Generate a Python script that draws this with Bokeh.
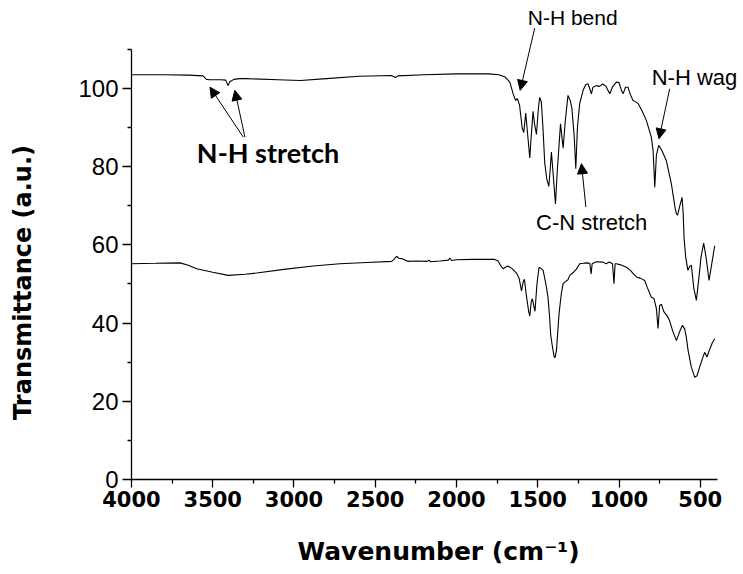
import math
from bokeh.plotting import figure
from bokeh.models import Range1d, FixedTicker, Label, Arrow, NormalHead, ColumnDataSource
from bokeh.embed import file_html
from bokeh.resources import INLINE

# ---- data ----
top_wn = [4000, 3800, 3650, 3560, 3538, 3520, 3450, 3420, 3406, 3395, 3370, 3333, 3300, 3100,
          2960, 2800, 2600, 2400, 2375, 2360, 2200, 2000, 1800, 1740, 1700, 1675, 1672, 1650,
          1636, 1626, 1612, 1596, 1586, 1574, 1566, 1549, 1540, 1529, 1520, 1508, 1496, 1488,
          1478, 1468, 1457, 1445, 1432, 1424, 1416, 1405, 1391, 1380, 1360, 1344, 1330, 1314,
          1300, 1290, 1276, 1266, 1256, 1242, 1221, 1205, 1191, 1180, 1170, 1160, 1140, 1120,
          1100, 1080, 1057, 1040, 1016, 1000, 985, 975, 960, 945, 930, 914, 900, 883, 860, 832,
          801, 790, 780, 770, 756, 740, 709, 678, 655, 647, 640, 626, 612, 605, 600, 590, 576,
          565, 555, 540, 524, 510, 495, 479, 465, 446, 430, 411]
top_t = [103.6, 103.6, 103.5, 103.3, 102.4, 102.3, 102.3, 102.2, 100.8, 101.8, 102.4, 102.6,
         102.6, 102.3, 102.1, 102.6, 103.2, 103.4, 102.9, 103.3, 103.6, 103.8, 103.8, 103.6,
         103.0, 101.8, 101.7, 98.5, 97.0, 97.5, 95.8, 90.0, 88.8, 93.8, 90.0, 82.3, 88.0, 94.2,
         91.0, 88.3, 95.0, 97.8, 96.6, 90.0, 81.0, 77.0, 75.0, 79.0, 83.8, 78.0, 70.5, 79.0,
         91.0, 84.8, 92.0, 98.3, 97.0, 95.0, 88.0, 79.5, 90.0, 96.2, 99.6, 101.0, 101.3, 100.0,
         98.7, 100.4, 100.8, 100.6, 101.2, 100.6, 98.7, 100.5, 101.7, 101.6, 99.6, 98.7, 100.4,
         100.4, 98.5, 97.0, 96.7, 96.2, 94.5, 91.9, 87.6, 84.0, 74.8, 83.0, 85.5, 84.5, 81.6,
         75.7, 69.5, 68.0, 67.6, 70.0, 72.2, 68.0, 62.0, 57.0, 53.5, 54.5, 54.8, 49.0, 45.8,
         51.0, 57.0, 60.5, 57.0, 50.9, 55.0, 59.8]

bot_wn = [4000, 3850, 3702, 3650, 3599, 3500, 3405, 3300, 3230, 3050, 2882, 2718, 2550, 2400,
          2385, 2369, 2355, 2338, 2300, 2250, 2180, 2170, 2160, 2100, 2050, 2040, 2030, 2000,
          1900, 1800, 1765, 1744, 1725, 1713, 1700, 1683, 1660, 1631, 1615, 1600, 1590, 1582,
          1570, 1556, 1549, 1540, 1533, 1525, 1517, 1505, 1492, 1480, 1467, 1450, 1437, 1428,
          1420, 1410, 1400, 1394, 1385, 1369, 1355, 1344, 1330, 1314, 1303, 1285, 1262, 1242,
          1220, 1200, 1180, 1172, 1165, 1140, 1098, 1080, 1060, 1040, 1031, 1024, 1016, 990,
          955, 930, 910, 893, 870, 842, 825, 801, 785, 770, 760, 750, 739, 725, 699, 688, 670,
          647, 625, 610, 596, 586, 575, 555, 534, 520, 504, 490, 473, 459, 440, 425, 411]
bot_t = [55.2, 55.3, 55.4, 54.8, 53.9, 53.0, 52.2, 52.5, 52.8, 53.8, 54.6, 55.2, 55.5, 55.8,
         56.3, 57.1, 56.6, 56.5, 55.8, 55.9, 55.8, 56.1, 55.7, 55.9, 56.1, 56.6, 56.0, 56.2,
         56.3, 56.3, 56.3, 55.9, 54.5, 53.9, 54.3, 54.6, 54.0, 52.8, 51.5, 48.2, 50.5, 51.2,
         47.0, 43.0, 41.8, 45.5, 46.2, 44.5, 43.0, 50.0, 54.3, 54.0, 53.5, 50.0, 46.6, 42.0,
         36.8, 34.0, 31.5, 31.1, 33.0, 42.4, 47.5, 50.1, 50.6, 51.1, 52.2, 52.8, 53.8, 55.2,
         55.3, 55.4, 55.3, 52.6, 55.2, 55.7, 55.6, 55.2, 55.6, 55.2, 50.1, 55.2, 55.2, 54.9,
         54.3, 53.5, 52.5, 51.8, 51.5, 50.9, 49.0, 46.6, 46.3, 43.7, 38.6, 44.5, 44.8, 43.0,
         41.5, 40.5, 38.0, 35.5, 38.0, 39.4, 38.5, 36.4, 33.0, 28.7, 26.1, 26.5, 28.7, 30.5,
         32.5, 31.3, 33.5, 35.0, 36.0]

x_major = [4000, 3500, 3000, 2500, 2000, 1500, 1000, 500]
x_minor = [3750, 3250, 2750, 2250, 1750, 1250, 750]
y_major = [0, 20, 40, 60, 80, 100]
y_minor = [10, 30, 50, 70, 90, 110]
x_axis_bounds = (393, 4000)
y_axis_bounds = (0, 110)

# annotations: (text, x, y) and arrows (x_start, y_start, x_end, y_end) in data units
ann_nh_stretch = ("N-H stretch", 3160, 83.7)
arrows_nh_stretch = [(3312, 87.6, 3517, 100.4), (3302, 87.6, 3364, 99.6)]
ann_nh_bend = ("N-H bend", 1285, 118.3)
arrow_nh_bend = (1519, 115.5, 1608, 99.6)
ann_nh_wag = ("N-H wag", 799, 102.9)
arrow_nh_wag = (688, 100.0, 754, 87.2)
ann_cn = ("C-N stretch", 1168, 65.8)
arrow_cn = (1204, 69.7, 1231, 80.8)
x_title = ("Wavenumber (cm\u207b\u00b9)", 2110, -18.6)
y_title = ("Transmittance (a.u.)", 4670, 50.4)

# ---- figure: frame covers the whole canvas, axes fixed at data positions ----
p = figure(width=743, height=574, output_backend="svg", toolbar_location=None, title=None,
           x_range=Range1d(4806, 234), y_range=Range1d(-24.4, 122.6))
p.min_border_left = 0
p.min_border_right = 0
p.min_border_top = 0
p.min_border_bottom = 0
p.outline_line_color = None
p.xgrid.visible = False
p.ygrid.visible = False
p.background_fill_color = "white"
p.border_fill_color = "white"

src_top = ColumnDataSource(dict(x=top_wn, y=top_t))
src_bot = ColumnDataSource(dict(x=bot_wn, y=bot_t))
p.line("x", "y", source=src_top, line_color="black", line_width=1.1)
p.line("x", "y", source=src_bot, line_color="black", line_width=1.1)

xa = p.xaxis[0]
xa.fixed_location = 0
xa.bounds = x_axis_bounds
xa.ticker = FixedTicker(ticks=x_major, minor_ticks=x_minor)
xa.major_label_text_font = "DejaVu Sans"
xa.major_label_text_font_style = "bold"
xa.major_label_text_font_size = "21px"
xa.major_label_text_color = "black"
xa.major_label_standoff = 4
xa.major_tick_out = 8
xa.major_tick_in = 0
xa.minor_tick_out = 4
xa.minor_tick_in = 0
xa.axis_line_color = "black"
xa.major_tick_line_color = "black"
xa.minor_tick_line_color = "black"
xa.axis_line_width = 1.3
xa.major_tick_line_width = 1.3
xa.minor_tick_line_width = 1.3

ya = p.yaxis[0]
ya.fixed_location = 4000
ya.bounds = y_axis_bounds
ya.ticker = FixedTicker(ticks=y_major, minor_ticks=y_minor)
ya.major_label_text_font = "Liberation Sans"
ya.major_label_text_font_size = "24px"
ya.major_label_text_color = "black"
ya.major_label_standoff = 4
ya.major_tick_out = 9
ya.major_tick_in = 0
ya.minor_tick_out = 4
ya.minor_tick_in = 0
ya.axis_line_color = "black"
ya.major_tick_line_color = "black"
ya.minor_tick_line_color = "black"
ya.axis_line_width = 1.3
ya.major_tick_line_width = 1.3
ya.minor_tick_line_width = 1.3

p.add_layout(Label(x=x_title[1], y=x_title[2], text=x_title[0], text_align="center",
                   text_baseline="middle", text_font="DejaVu Sans", text_font_style="bold",
                   text_font_size="25px", text_color="black"))
p.add_layout(Label(x=y_title[1], y=y_title[2], text=y_title[0], angle=math.pi / 2,
                   text_align="center", text_baseline="middle", text_font="DejaVu Sans",
                   text_font_style="bold", text_font_size="24px", text_color="black"))

def add_arrow(a):
    p.add_layout(Arrow(end=NormalHead(size=10, fill_color="black", line_color="black"),
                       x_start=a[0], y_start=a[1], x_end=a[2], y_end=a[3],
                       line_color="black", line_width=1))

for a in arrows_nh_stretch:
    add_arrow(a)
add_arrow(arrow_nh_bend)
add_arrow(arrow_nh_wag)
add_arrow(arrow_cn)

p.add_layout(Label(x=ann_nh_stretch[1], y=ann_nh_stretch[2], text=ann_nh_stretch[0],
                   text_align="center", text_baseline="middle", text_font="Lato",
                   text_font_style="bold", text_font_size="27px", text_color="black"))
p.add_layout(Label(x=ann_nh_bend[1], y=ann_nh_bend[2], text=ann_nh_bend[0],
                   text_align="center", text_baseline="middle", text_font="Liberation Sans",
                   text_font_size="21px", text_color="black"))
p.add_layout(Label(x=ann_nh_wag[1], y=ann_nh_wag[2], text=ann_nh_wag[0],
                   text_align="left", text_baseline="middle", text_font="Liberation Sans",
                   text_font_size="22px", text_color="black"))
p.add_layout(Label(x=ann_cn[1], y=ann_cn[2], text=ann_cn[0],
                   text_align="center", text_baseline="middle", text_font="Liberation Sans",
                   text_font_size="22px", text_color="black"))

open("out.html", "w").write(file_html(p, INLINE))
